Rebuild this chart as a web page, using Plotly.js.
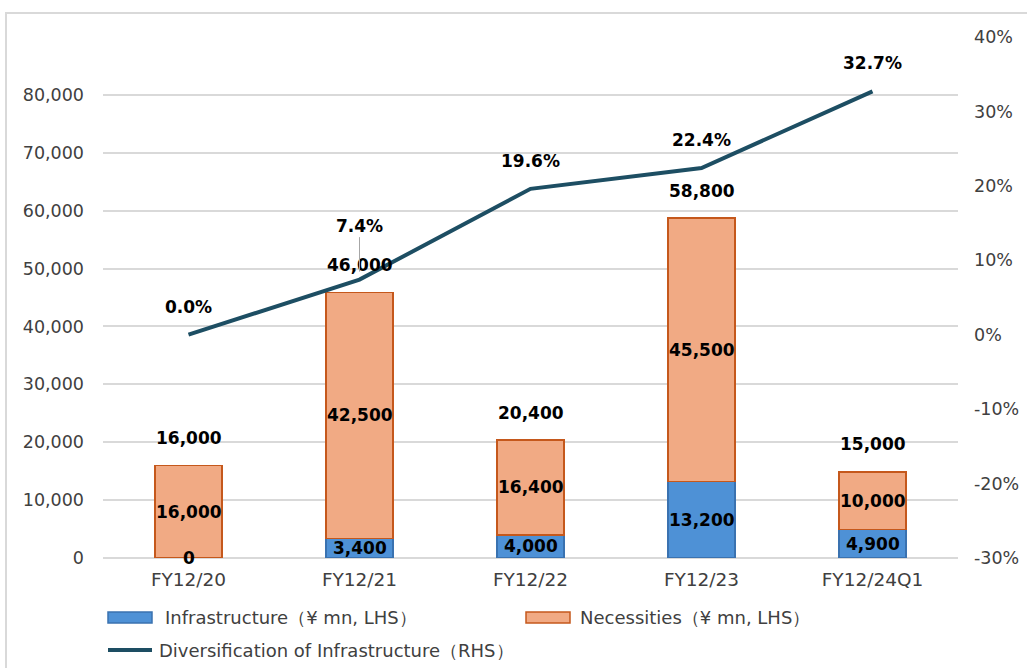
<!DOCTYPE html>
<html>
<head>
<meta charset="utf-8">
<script src="https://cdn.plot.ly/plotly-3.0.1.min.js"></script>
<style>
html, body { margin:0; padding:0; background:#fff; overflow:hidden; }
#chart { width:1027px; height:668px; }
#frame { position:absolute; left:5px; top:12px; width:1040px; height:680px; border-left:2px solid #d9d9d9; border-top:2px solid #d9d9d9; pointer-events:none; }
</style>
</head>
<body>
<div id="chart"></div>
<div id="frame"></div>
<script>
// ---- data ----
const categories = ["FY12/20", "FY12/21", "FY12/22", "FY12/23", "FY12/24Q1"];
const infrastructure = [0, 3400, 4000, 13200, 4900];
const necessities = [16000, 42500, 16400, 45500, 10000];
const totals = [16000, 46000, 20400, 58800, 15000];
const diversification = [0.0, 7.4, 19.6, 22.4, 32.7];
const seriesNames = ["Infrastructure（¥ mn, LHS）", "Necessities（¥ mn, LHS）", "Diversification of Infrastructure（RHS）"];
const leftTicks = [0, 10000, 20000, 30000, 40000, 50000, 60000, 70000, 80000];
const rightTicks = [-30, -20, -10, 0, 10, 20, 30, 40];

// ---- style ----
const W = 1027, H = 668;
const M = { l: 103, r: 69, t: 37, b: 110 };
const blueFill = "#4e91d6", blueLine = "#3a72b0";
const orangeFill = "#f1aa84", orangeLine = "#c5581c";
const lineColor = "#1d4e63";
const tickColor = "#404040";
const FONT = "DejaVu Sans, Verdana, sans-serif";
const fmt = v => v.toLocaleString("en-US");
const px2x = px => (px - M.l) / (W - M.l - M.r);
const px2y = py => (H - M.b - py) / (H - M.t - M.b);

const traces = [
  { type: "bar", name: seriesNames[0], x: categories, y: infrastructure,
    marker: { color: blueFill, line: { color: blueLine, width: 1.5 } }, showlegend: false, hoverinfo: "x+y+name" },
  { type: "bar", name: seriesNames[1], x: categories, y: necessities,
    marker: { color: orangeFill, line: { color: orangeLine, width: 1.5 } }, showlegend: false, hoverinfo: "x+y+name" },
  { type: "scatter", mode: "lines", name: seriesNames[2], x: categories, y: diversification, yaxis: "y2",
    line: { color: lineColor, width: 4 }, showlegend: false }
];

const labelFont = { family: FONT, size: 17, color: "#000", weight: "bold" };
const annotations = [];
categories.forEach((c, i) => {
  annotations.push({ x: c, y: infrastructure[i] / 2, xref: "x", yref: "y", text: "<b>" + fmt(infrastructure[i]) + "</b>", showarrow: false, font: labelFont });
  annotations.push({ x: c, y: infrastructure[i] + necessities[i] / 2, xref: "x", yref: "y", text: "<b>" + fmt(necessities[i]) + "</b>", showarrow: false, font: labelFont });
  annotations.push({ x: c, y: totals[i], xref: "x", yref: "y", yshift: 27, text: "<b>" + fmt(totals[i]) + "</b>", showarrow: false, font: labelFont });
  const pct = "<b>" + diversification[i].toFixed(1) + "%</b>";
  if (i === 1) {
    annotations.push({ x: c, y: diversification[i], xref: "x", yref: "y2", text: pct, showarrow: true, ax: 0, ay: -54,
      arrowhead: 0, arrowwidth: 1, arrowcolor: "#a6a6a6", standoff: 8, font: labelFont });
  } else {
    annotations.push({ x: c, y: diversification[i], xref: "x", yref: "y2", yshift: 28, text: pct, showarrow: false, font: labelFont });
  }
});

// custom legend
const legFont = { family: FONT, size: 18, color: tickColor };
const shapes = [
  { type: "rect", xref: "paper", yref: "paper", x0: px2x(108), x1: px2x(152), y0: px2y(623), y1: px2y(612),
    fillcolor: blueFill, line: { color: blueLine, width: 1.5 } },
  { type: "rect", xref: "paper", yref: "paper", x0: px2x(526), x1: px2x(570), y0: px2y(623), y1: px2y(612),
    fillcolor: orangeFill, line: { color: orangeLine, width: 1.5 } },
  { type: "line", xref: "paper", yref: "paper", x0: px2x(108), x1: px2x(152), y0: px2y(650), y1: px2y(650),
    line: { color: lineColor, width: 4 } }
];
annotations.push({ xref: "paper", yref: "paper", x: px2x(163), y: px2y(617.5), xanchor: "left", yanchor: "middle", text: seriesNames[0], showarrow: false, font: legFont });
annotations.push({ xref: "paper", yref: "paper", x: px2x(578), y: px2y(617.5), xanchor: "left", yanchor: "middle", text: seriesNames[1], showarrow: false, font: legFont });
annotations.push({ xref: "paper", yref: "paper", x: px2x(157), y: px2y(650), xanchor: "left", yanchor: "middle", text: seriesNames[2], showarrow: false, font: legFont });

const layout = {
  width: W, height: H, margin: M,
  paper_bgcolor: "#fff", plot_bgcolor: "#fff",
  barmode: "stack", bargap: 0.61,
  font: { family: FONT, size: 17, color: tickColor },
  xaxis: { type: "category", showgrid: false, zeroline: false, showline: false, ticks: "", ticklabelstandoff: 8,
    tickfont: { family: FONT, size: 18.5, color: tickColor } },
  yaxis: { range: [0, 90000], tickvals: leftTicks, ticktext: leftTicks.map(fmt), showgrid: true,
    gridcolor: "#d9d9d9", gridwidth: 1.5, zeroline: true, zerolinecolor: "#d9d9d9", zerolinewidth: 1.5,
    showline: false, ticks: "", ticklabelstandoff: 18, tickfont: { family: FONT, size: 17.5, color: tickColor } },
  yaxis2: { overlaying: "y", side: "right", range: [-30, 40], tickvals: rightTicks, ticktext: rightTicks.map(v => v + "%"),
    showgrid: false, zeroline: false, showline: false, ticks: "", ticklabelstandoff: 15,
    tickfont: { family: FONT, size: 17.5, color: tickColor } },
  shapes: shapes,
  annotations: annotations,
  hovermode: "closest"
};

Plotly.newPlot("chart", traces, layout, { displayModeBar: false, responsive: false });
</script>
</body>
</html>
